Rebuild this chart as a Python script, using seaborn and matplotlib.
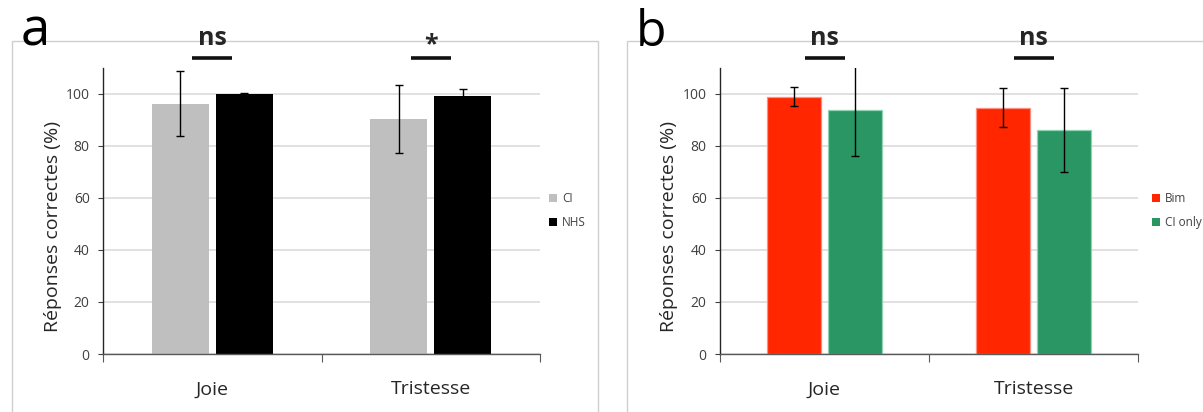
import matplotlib
matplotlib.use("Agg")
import matplotlib.pyplot as plt
from matplotlib.patches import Rectangle, Patch
import seaborn as sns
import pandas as pd

# ---- data ----
emotions = ["Joie", "Tristesse"]

a_groups = ["CI", "NHS"]
a_values = {"CI": [96.2, 90.4], "NHS": [99.9, 99.2]}
a_errors = {"CI": [12.6, 13.0], "NHS": [0.3, 2.8]}
a_colors = ["#BFBFBF", "#000000"]
a_signif = ["ns", "*"]

b_groups = ["Bim", "CI only"]
b_values = {"Bim": [98.9, 94.6], "CI only": [93.6, 86.1]}
b_errors = {"Bim": [3.5, 7.5], "CI only": [17.5, 16.0]}
b_colors = ["#FF2600", "#2A9664"]
b_edges = ["#FF8F80", "#8FD3B3"]
b_signif = ["ns", "ns"]

yticks = [0, 20, 40, 60, 80, 100]
ylabel = "Réponses correctes (%)"
panel_letters = ["a", "b"]

sns.set_style("white")
plt.rcParams["font.family"] = ["Open Sans", "DejaVu Sans"]

W, H = 1203, 412
fig = plt.figure(figsize=(W / 100, H / 100), dpi=100)


def px_rect(l, r, b_px, t_px):
    return [l / W, 1 - b_px / H, (r - l) / W, (b_px - t_px) / H]


def make_panel(rect, groups, values, errors, colors, signif, leg_x, ylab_x, edges=None):
    ax = fig.add_axes(rect)
    ax.patch.set_alpha(0)
    rows = []
    for g in groups:
        for e, v in zip(emotions, values[g]):
            rows.append({"emotion": e, "group": g, "value": v})
    df = pd.DataFrame(rows)
    sns.barplot(data=df, x="emotion", y="value", hue="group", order=emotions,
                hue_order=groups, palette=colors, saturation=1, width=0.585, gap=0.11,
                errorbar=None, legend=False, linewidth=0, ax=ax, zorder=2)
    for gi, (g, cont) in enumerate(zip(groups, ax.containers)):
        for j, p in enumerate(cont.patches):
            if edges is not None:
                p.set_edgecolor(edges[gi])
                p.set_linewidth(0.9)
            xc = p.get_x() + p.get_width() / 2
            ax.errorbar(xc, values[g][j], yerr=errors[g][j], color="#000000",
                        lw=1.0, capsize=3, capthick=1.0, zorder=4)
    ax.set_xlim(-0.5, 1.5)
    ax.set_ylim(0, 110)
    ax.set_yticks(yticks)
    ax.yaxis.grid(True, color="#D9D9D9", lw=1.1, zorder=0)
    ax.xaxis.grid(False)
    ax.set_axisbelow(True)
    for s in ["top", "right"]:
        ax.spines[s].set_visible(False)
    ax.spines["left"].set_color("#262626")
    ax.spines["left"].set_linewidth(1.0)
    ax.spines["bottom"].set_color("#595959")
    ax.spines["bottom"].set_linewidth(1.0)
    ax.tick_params(axis="y", which="major", length=3.6, width=0.8, color="#404040",
                   labelsize=10, labelcolor="#404040", pad=6, left=True)
    ax.set_xticks([-0.5, 0.5, 1.5])
    ax.set_xticklabels([])
    ax.set_xticks([0, 1], minor=True)
    ax.set_xticklabels(emotions, minor=True)
    ax.tick_params(axis="x", which="major", length=5.8, width=0.8, color="#595959",
                   bottom=True, direction="out")
    ax.tick_params(axis="x", which="minor", length=0, pad=19, labelsize=14,
                   labelcolor="#262626")
    ax.set_xlabel("")
    ax.set_ylabel(ylabel, fontsize=14, color="#262626")
    ax.yaxis.set_label_coords(ylab_x, 0.447)
    # significance markers
    pxu = 2.0 / (rect[2] * W)
    for i, lab in enumerate(signif):
        ax.plot([i - 20 * pxu, i + 20 * pxu], [113.7, 113.7], color="#111111",
                lw=2.6, clip_on=False, solid_capstyle="butt")
        ty = 116.3 if lab == "*" else 118.7
        ax.text(i, ty, lab, ha="center", va="baseline", fontsize=18,
                fontweight="bold", color="#262626", clip_on=False)
    handles = [Patch(facecolor=c, edgecolor="none") for c in colors]
    ax.legend(handles, groups, loc="upper left", bbox_to_anchor=(leg_x, 0.565),
              borderaxespad=0, borderpad=0, frameon=False, fontsize=8.5,
              labelcolor="#404040", handlelength=0.7, handleheight=0.7,
              handletextpad=0.4, labelspacing=0.95)
    return ax


# panel frames (behind everything)
fig.patches.append(Rectangle((12 / W, -0.01), (598 - 12) / W, 1 - 41 / H + 0.01,
                             transform=fig.transFigure, fill=False,
                             edgecolor="#CFCFCF", lw=1.0, zorder=-5))
fig.patches.append(Rectangle((627 / W, -0.01), 0.5, 1 - 41 / H + 0.01,
                             transform=fig.transFigure, fill=False,
                             edgecolor="#CFCFCF", lw=1.0, zorder=-5))

ax_a = make_panel(px_rect(103, 540, 354, 67.7), a_groups, a_values, a_errors,
                  a_colors, a_signif, 1.0206, -0.094)
ax_b = make_panel(px_rect(720, 1138, 354, 67.7), b_groups, b_values, b_errors,
                  b_colors, b_signif, 1.0335, -0.100, edges=b_edges)

fig.text(21 / W, 1 - 46 / H, panel_letters[0], fontsize=38, color="black",
         ha="left", va="baseline")
fig.text(636 / W, 1 - 46 / H, panel_letters[1], fontsize=36, color="black",
         ha="left", va="baseline")

fig.savefig("out.png", dpi=100)
